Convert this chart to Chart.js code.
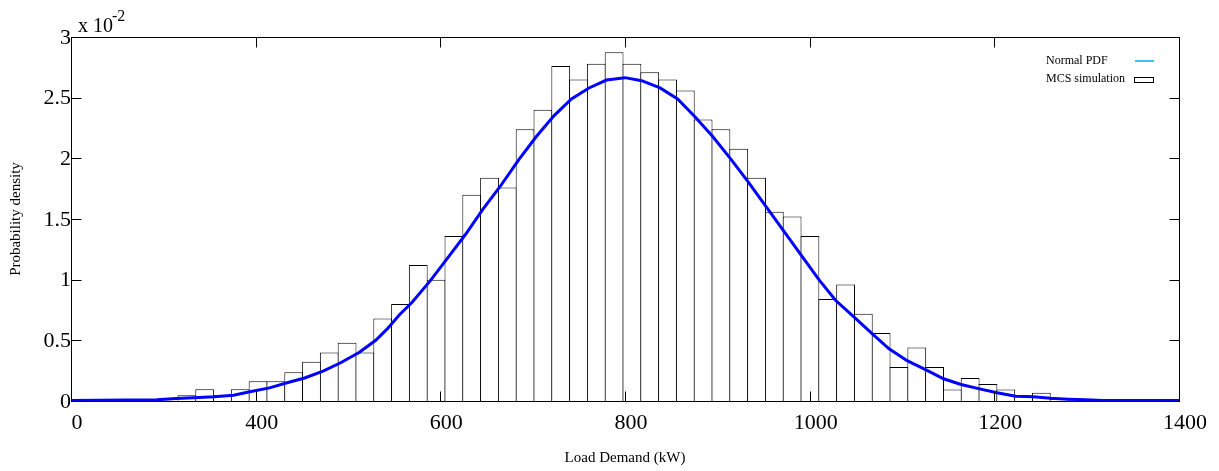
<!DOCTYPE html>
<html>
<head>
<meta charset="utf-8">
<script src="https://cdn.jsdelivr.net/npm/chart.js@4/dist/chart.umd.min.js"></script>
<style>
  body { margin: 0; background: #fff; }
  canvas { display: block; }
</style>
</head>
<body>
<canvas id="pdfChart" width="1219" height="471"></canvas>
<script>
// histogram of the MCS samples (kW bin centres, density in units of 10^-2)
const binCenters = [325.5, 344.8, 364.1, 383.3, 402.6, 421.9, 441.2, 460.5, 479.7, 499.0,
    518.3, 537.6, 556.9, 576.1, 595.4, 614.7, 634.0, 653.3, 672.5, 691.8,
    711.1, 730.4, 749.7, 768.9, 788.2, 807.5, 826.8, 846.1, 865.3, 884.6,
    903.9, 923.2, 942.5, 961.7, 981.0, 1000.3, 1019.6, 1038.9, 1058.1, 1077.4,
    1096.7, 1116.0, 1135.3, 1154.5, 1173.8, 1193.1, 1212.4, 1231.7, 1250.9, 1270.2,
    1289.5, 1308.8];
const mcsDensity = [0.047, 0.096, 0.047, 0.096, 0.162, 0.162, 0.237, 0.324, 0.40, 0.48,
    0.40, 0.68, 0.80, 1.12, 1.00, 1.36, 1.70, 1.84, 1.76, 2.24,
    2.40, 2.76, 2.65, 2.78, 2.875, 2.78, 2.71, 2.65, 2.56, 2.32,
    2.24, 2.08, 1.84, 1.56, 1.52, 1.36, 0.84, 0.96, 0.72, 0.56,
    0.28, 0.44, 0.28, 0.095, 0.19, 0.14, 0.095, 0.045, 0.068, 0.018,
    0.012, 0.005];

// fitted normal pdf
const pdfX = [200, 293, 314, 333, 355, 376, 395, 415, 434, 453, 473, 492, 512, 530, 542,
    556, 569, 589, 608, 627, 646, 665, 685, 704, 723, 742, 761, 780, 800, 818,
    838, 857, 876, 895, 914, 933, 952, 972, 991, 1010, 1028, 1047, 1067, 1086, 1106,
    1125, 1145, 1164, 1184, 1203, 1223, 1242, 1261, 1280, 1299, 1318, 1400];
const pdfY = [0.004, 0.01, 0.02, 0.026, 0.035, 0.048, 0.078, 0.108, 0.15, 0.19, 0.246, 0.315, 0.40, 0.50, 0.59,
    0.713, 0.81, 0.99, 1.18, 1.37, 1.58, 1.77, 1.99, 2.18, 2.35, 2.49, 2.58, 2.645, 2.665, 2.64,
    2.58, 2.49, 2.34, 2.18, 2.00, 1.81, 1.61, 1.40, 1.20, 1.00, 0.83, 0.70, 0.56, 0.43, 0.33,
    0.26, 0.183, 0.136, 0.10, 0.068, 0.04, 0.035, 0.023, 0.015, 0.01, 0.005, 0.004];

const xTicks = [200, 400, 600, 800, 1000, 1200, 1400];
const xTickLabels = ['0', '400', '600', '800', '1000', '1200', '1400'];
const yTicks = [0, 0.5, 1, 1.5, 2, 2.5, 3];
const yTickLabels = ['0', '0.5', '1', '1.5', '2', '2.5', '3'];

const SERIF = "'Liberation Serif', 'Times New Roman', serif";

// matlab style box, inward ticks, labels and legend
const framePlugin = {
    id: 'frame',
    afterDatasetsDraw(chart) {
        const { ctx, chartArea: a, scales: { x, y } } = chart;
        const L = Math.round(a.left) + 0.5, R = Math.round(a.right) + 0.5;
        const T = Math.round(a.top) + 0.5, B = Math.round(a.bottom) + 0.5;
        ctx.save();
        ctx.strokeStyle = '#000';
        ctx.lineWidth = 1;
        ctx.strokeRect(L, T, R - L, B - T);

        ctx.beginPath();
        xTicks.forEach(v => {
            const px = Math.round(x.getPixelForValue(v)) + 0.5;
            ctx.moveTo(px, B); ctx.lineTo(px, B - 10);
            ctx.moveTo(px, T); ctx.lineTo(px, T + 10);
        });
        yTicks.forEach(v => {
            const py = Math.round(y.getPixelForValue(v)) + 0.5;
            ctx.moveTo(L, py); ctx.lineTo(L + 10, py);
            ctx.moveTo(R, py); ctx.lineTo(R - 10, py);
        });
        ctx.stroke();

        ctx.fillStyle = '#000';
        ctx.font = '22px ' + SERIF;
        ctx.textAlign = 'center';
        ctx.textBaseline = 'middle';
        xTicks.forEach((v, i) => {
            ctx.fillText(xTickLabels[i], x.getPixelForValue(v) + 6, 423);
        });
        ctx.textAlign = 'right';
        yTicks.forEach((v, i) => {
            ctx.fillText(yTickLabels[i], a.left, y.getPixelForValue(v) + 1);
        });

        // exponent
        ctx.textAlign = 'left';
        ctx.textBaseline = 'alphabetic';
        ctx.font = '20px ' + SERIF;
        ctx.fillText('x 10', 78, 32);
        ctx.font = '16px ' + SERIF;
        ctx.fillText('-2', 112, 21);

        // axis titles
        ctx.font = '15px ' + SERIF;
        ctx.textAlign = 'center';
        ctx.textBaseline = 'middle';
        ctx.fillText('Load Demand (kW)', (a.left + a.right) / 2, 458);
        ctx.save();
        ctx.translate(16, (a.top + a.bottom) / 2);
        ctx.rotate(-Math.PI / 2);
        ctx.fillText('Probability density', 0, 0);
        ctx.restore();

        // legend
        ctx.font = '12px ' + SERIF;
        ctx.textAlign = 'left';
        ctx.fillText('Normal PDF', 1046, 61);
        ctx.fillText('MCS simulation', 1046, 79);
        ctx.strokeStyle = '#3fc0ff';
        ctx.lineWidth = 2;
        ctx.beginPath();
        ctx.moveTo(1135, 61); ctx.lineTo(1154, 61);
        ctx.stroke();
        ctx.strokeStyle = '#000';
        ctx.lineWidth = 1;
        ctx.fillStyle = '#fff';
        ctx.fillRect(1134.5, 77.5, 19, 5);
        ctx.strokeRect(1134.5, 77.5, 19, 5);
        ctx.restore();
    }
};

const ctx = document.getElementById('pdfChart').getContext('2d');

const pdfChart = new Chart(ctx, {
    type: 'bar',
    data: {
        datasets: [
            {
                type: 'bar',
                label: 'MCS simulation',
                data: binCenters.map((c, i) => ({ x: c, y: mcsDensity[i] })),
                backgroundColor: '#fff',
                borderColor: '#000',
                borderWidth: 1,
                barPercentage: 1.06,
                categoryPercentage: 1,
                order: 2
            },
            {
                type: 'line',
                label: 'Normal PDF',
                data: pdfX.map((v, i) => ({ x: v, y: pdfY[i] })),
                borderColor: '#0000ff',
                borderWidth: 3,
                pointRadius: 0,
                tension: 0,
                fill: false,
                order: 1
            }
        ]
    },
    options: {
        responsive: false,
        animation: false,
        layout: { padding: { left: 71, right: 40, top: 37, bottom: 70 } },
        plugins: { legend: { display: false }, tooltip: { enabled: false } },
        scales: {
            x: { type: 'linear', min: 200, max: 1400, offset: false, display: false },
            y: { min: 0, max: 3, display: false }
        }
    },
    plugins: [framePlugin]
});
</script>
</body>
</html>
